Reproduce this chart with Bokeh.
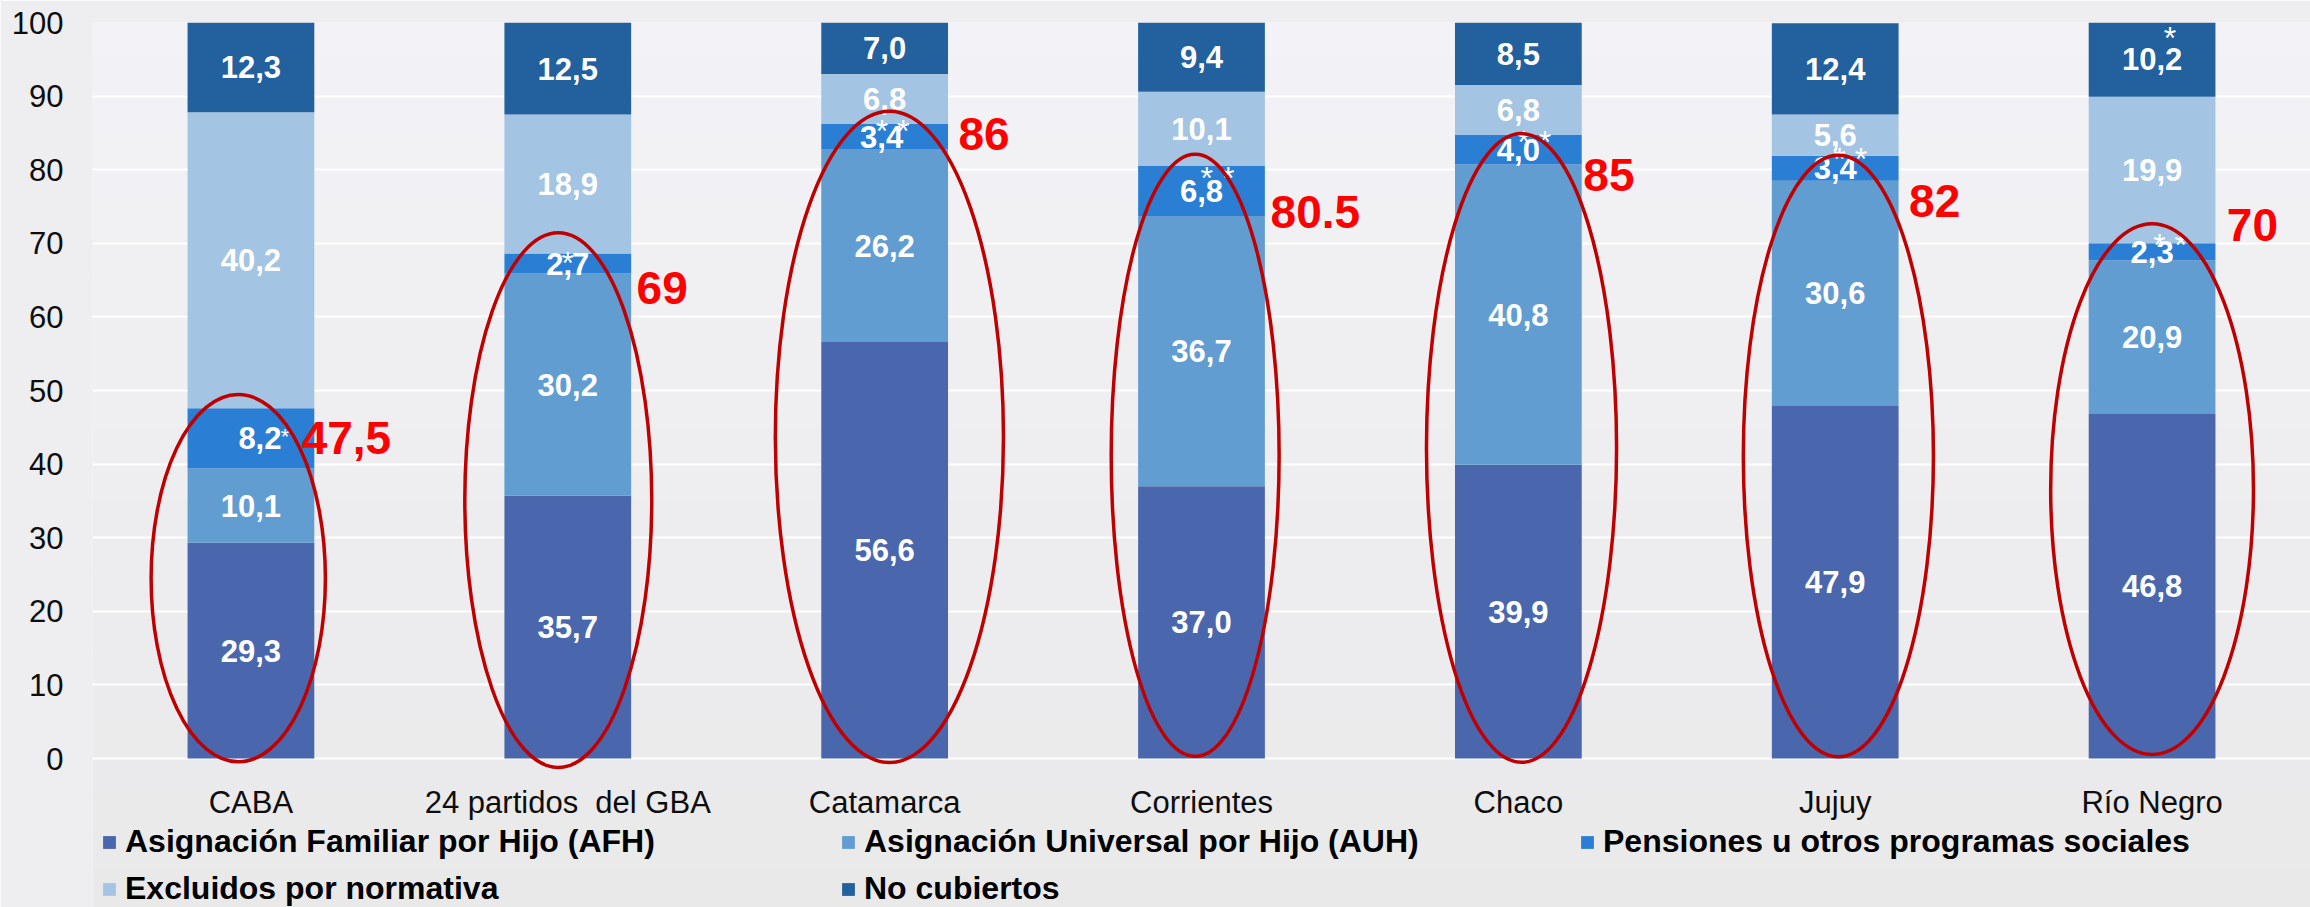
from bokeh.plotting import figure
from bokeh.models import (FactorRange, Range1d, ColumnDataSource, Legend, LegendItem,
                          FixedTicker, BoxAnnotation)
from bokeh.core.properties import value
from bokeh.embed import file_html
from bokeh.resources import INLINE

# ---------------- data ----------------
categories = ["CABA", "24 partidos \u00a0del GBA", "Catamarca", "Corrientes", "Chaco", "Jujuy", "Río Negro"]
afh = [29.3, 35.7, 56.6, 37.0, 39.9, 47.9, 46.8]
auh = [10.1, 30.2, 26.2, 36.7, 40.8, 30.6, 20.9]
pensiones = [8.2, 2.7, 3.4, 6.8, 4.0, 3.4, 2.3]
excluidos = [40.2, 18.9, 6.8, 10.1, 6.8, 5.6, 19.9]
no_cubiertos = [12.3, 12.5, 7.0, 9.4, 8.5, 12.4, 10.2]
series_names = ["Asignación Familiar por Hijo (AFH)",
                "Asignación Universal por Hijo (AUH)",
                "Pensiones u otros programas sociales",
                "Excluidos por normativa",
                "No cubiertos"]
pens_marks = ["*", "*", "* *", "* *", "* *", "* *", "* *"]
nocub_marks = ["", "", "", "", "", "", "*"]
coverage_labels = ["47,5", "69", "86", "80.5", "85", "82", "70"]
y_ticks = [0, 10, 20, 30, 40, 50, 60, 70, 80, 90, 100]

# ---------------- styles ----------------
colors = ["#4A67AD", "#629DD1", "#2A7FD5", "#A3C4E2", "#22609E"]
FONT = value("Liberation Sans")
cov_dx = [0.16, 0.217, 0.233, 0.218, 0.205, 0.233, 0.236]
cov_y = [43.6, 63.9, 84.8, 74.3, 79.3, 75.8, 72.5]
ell_dx = [-0.04, -0.03, 0.015, -0.02, 0.01, 0.01, 0.0]
ell_y = [24.5, 35.1, 43.7, 41.2, 42.2, 41.1, 36.6]
ell_w = [0.55, 0.59, 0.72, 0.53, 0.60, 0.60, 0.64]
ell_h = [49.9, 72.7, 88.5, 81.8, 85.5, 81.7, 72.1]
pens_label_dx = [9, 0, -3, 0, 0, 0, 0]
pens_mark_dx = [34, 0, 8, 16, 16, 15, 18]
pens_mark_dy = [-2, -1, -6, -13, -8, -9, -7]
Y_BOTTOM = -20.24   # room under the zero line for category labels and legend
BG_TOP = (243, 243, 247)
BG_BOTTOM = (233, 233, 234)

keys = ["afh", "auh", "pens", "excl", "nocub"]
series = [afh, auh, pensiones, excluidos, no_cubiertos]
source = ColumnDataSource(data=dict(cat=categories, afh=afh, auh=auh, pens=pensiones,
                                    excl=excluidos, nocub=no_cubiertos))

p = figure(x_range=FactorRange(*categories, range_padding=0), y_range=Range1d(Y_BOTTOM, 100),
           width=2310, height=907, output_backend="svg", toolbar_location=None,
           min_border_left=92, min_border_right=0, min_border_top=22, min_border_bottom=0)
p.background_fill_color = "#EEEEF1"
p.border_fill_color = "#EEEEF1"
p.outline_line_color = None

# soft vertical background gradient
n_bands = 24
span = 100 - Y_BOTTOM
for k in range(n_bands):
    f = (k + 0.5) / n_bands
    c = tuple(int(round(BG_TOP[j] + (BG_BOTTOM[j] - BG_TOP[j]) * f)) for j in range(3))
    top = 100 - span * k / n_bands + 0.3
    bot = 100 - span * (k + 1) / n_bands
    p.add_layout(BoxAnnotation(top=top, bottom=bot, fill_color="#%02X%02X%02X" % c,
                               fill_alpha=1, line_alpha=0, level="image"))

renderers = p.vbar_stack(keys, x="cat", width=0.4, color=colors, source=source, line_width=0)


def fmt(v):
    return f"{v:.1f}".replace(".", ",")


bottoms = [0.0] * len(categories)
mids = []
for s in series:
    mids.append([b + v / 2 for b, v in zip(bottoms, s)])
    bottoms = [b + v for b, v in zip(bottoms, s)]

for i, s in enumerate(series):
    xo = pens_label_dx if i == 2 else [0] * len(categories)
    src = ColumnDataSource(data=dict(x=categories, y=mids[i], t=[fmt(v) for v in s], xo=xo))
    p.text(x="x", y="y", text="t", x_offset="xo", source=src, text_font=FONT,
           text_font_style="bold", text_font_size="31px", text_color="white",
           text_align="center", text_baseline="middle")

# asterisks
big = [i for i in range(len(categories)) if i != 0]
src_pm = ColumnDataSource(data=dict(x=[categories[i] for i in big], y=[mids[2][i] for i in big],
                                    t=[pens_marks[i] for i in big],
                                    xo=[pens_mark_dx[i] for i in big],
                                    yo=[pens_mark_dy[i] for i in big]))
p.text(x="x", y="y", text="t", x_offset="xo", y_offset="yo", source=src_pm, text_font=FONT,
       text_font_size="32px", text_color="white", text_align="center", text_baseline="middle")
src_ps = ColumnDataSource(data=dict(x=[categories[0]], y=[mids[2][0]], t=[pens_marks[0]]))
p.text(x="x", y="y", text="t", x_offset=pens_mark_dx[0], y_offset=pens_mark_dy[0], source=src_ps,
       text_font=FONT, text_font_size="22px", text_color="white", text_align="center",
       text_baseline="middle")
src_nm = ColumnDataSource(data=dict(x=categories, y=mids[4], t=nocub_marks))
p.text(x="x", y="y", text="t", x_offset=18, y_offset=-21, source=src_nm, text_font=FONT,
       text_font_size="32px", text_color="white", text_align="center", text_baseline="middle")

# ellipses
src_e = ColumnDataSource(data=dict(x=[(c, d) for c, d in zip(categories, ell_dx)], y=ell_y,
                                   w=ell_w, h=ell_h))
p.ellipse(x="x", y="y", width="w", height="h", source=src_e, fill_alpha=0,
          line_color="#C00000", line_width=3.5)

# coverage totals
src_c = ColumnDataSource(data=dict(x=[(c, d) for c, d in zip(categories, cov_dx)], y=cov_y,
                                   t=coverage_labels))
p.text(x="x", y="y", text="t", source=src_c, text_font=FONT, text_font_style="bold",
       text_font_size="46px", text_color="#FF0000", text_align="left", text_baseline="middle")

# axes / grid
p.xgrid.grid_line_color = None
p.ygrid.grid_line_color = "white"
p.ygrid.grid_line_width = 2
p.yaxis.ticker = FixedTicker(ticks=y_ticks)
for ax in (p.xaxis[0], p.yaxis[0]):
    ax.axis_line_color = None
    ax.major_tick_line_color = None
    ax.minor_tick_line_color = None
    ax.major_tick_out = 0
    ax.major_tick_in = 0
    ax.minor_tick_out = 0
    ax.major_label_text_font = "Liberation Sans"
    ax.major_label_text_font_size = "31px"
    ax.major_label_text_color = "#0D0D0D"
p.xaxis.fixed_location = 0
p.xaxis.major_label_standoff = 26
p.yaxis.major_label_standoff = 29

# legend: column-major order so rows read AFH, AUH, Pensiones / Excluidos, No cubiertos
order = [0, 3, 1, 4, 2]
legend = Legend(items=[LegendItem(label=series_names[i], renderers=[renderers[i]]) for i in order],
                orientation="vertical", nrows=2, location=(9, -5),
                label_text_font="Liberation Sans", label_text_font_style="bold",
                label_text_font_size="32px", label_text_color="#000000",
                glyph_width=16, glyph_height=16, label_standoff=8, label_width=715,
                label_height=47, spacing=0, padding=0, margin=0,
                background_fill_alpha=0, border_line_color=None)
p.add_layout(legend, "center")

open("out.html", "w").write(file_html(p, INLINE))
